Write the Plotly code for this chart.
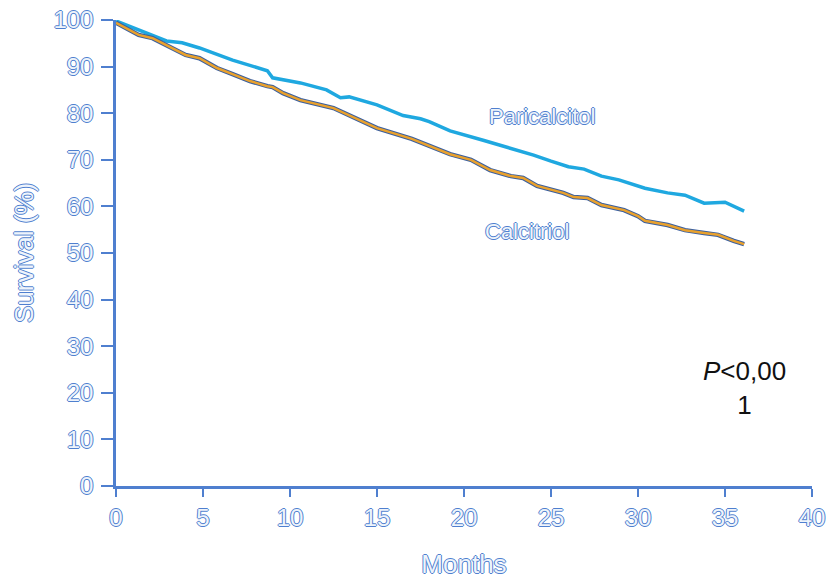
import plotly.graph_objects as go

# Paricalcitol survival (%) by month
pari_months = [0, 1.5, 2.9, 3.8, 4.8, 6.7, 8.7, 9.0, 10.6, 12.1, 12.9, 13.4, 15.0, 16.5, 17.5, 18.0,
               19.2, 21.1, 23.1, 24.0, 25.0, 26.0, 26.9, 27.9, 28.9, 30.4, 31.7, 32.7, 33.8, 35.0, 36.1]
pari_surv = [99.8, 97.6, 95.5, 95.1, 94.0, 91.4, 89.1, 87.6, 86.5, 85.0, 83.3, 83.5, 81.8, 79.5, 78.8, 78.2,
             76.2, 74.2, 72.1, 71.0, 69.7, 68.5, 68.0, 66.5, 65.7, 63.9, 62.9, 62.4, 60.7, 60.9, 59.0]

# Calcitriol survival (%) by month
calc_months = [0, 1.3, 2.1, 2.9, 3.6, 4.0, 4.8, 5.8, 6.7, 7.7, 8.7, 9.0, 9.6, 10.6, 12.5, 13.4, 15.0, 17.0,
               19.2, 20.4, 21.5, 22.7, 23.4, 24.2, 25.7, 26.3, 27.1, 27.9, 29.2, 30.0, 30.4, 31.7, 32.7,
               33.8, 34.6, 35.5, 36.1]
calc_surv = [99.4, 96.8, 96.1, 94.6, 93.3, 92.5, 91.8, 89.7, 88.4, 86.9, 85.8, 85.6, 84.3, 82.8, 81.1, 79.6,
             76.8, 74.5, 71.2, 70.0, 67.8, 66.5, 66.1, 64.4, 62.9, 62.0, 61.8, 60.3, 59.2, 57.9, 56.9,
             56.0, 54.9, 54.3, 53.9, 52.6, 51.9]

x_ticks = [0, 5, 10, 15, 20, 25, 30, 35, 40]
y_ticks = [0, 10, 20, 30, 40, 50, 60, 70, 80, 90, 100]

OUT = "#4f7fcf"
FILL = "#eef4fb"
shadow = f"1px 0 0 {OUT}, -1px 0 0 {OUT}, 0 1px 0 {OUT}, 0 -1px 0 {OUT}"
hollow = dict(family="Liberation Sans, Arial, sans-serif", color=FILL, shadow=shadow)

fig = go.Figure()
fig.add_trace(go.Scatter(x=pari_months, y=pari_surv, mode="lines",
                         line=dict(color="#1fa8e0", width=3.5), showlegend=False))
fig.add_trace(go.Scatter(x=calc_months, y=calc_surv, mode="lines",
                         line=dict(color="#3a5f9f", width=4.5), showlegend=False))
fig.add_trace(go.Scatter(x=calc_months, y=calc_surv, mode="lines",
                         line=dict(color="#e9a12d", width=2.5), showlegend=False))

fig.add_annotation(x=24.5, y=79.4, text="Paricalcitol", showarrow=False,
                   font=dict(size=22, **hollow))
fig.add_annotation(x=23.6, y=54.6, text="Calcitriol", showarrow=False,
                   font=dict(size=22, **hollow))
fig.add_annotation(x=36.1, y=21.0, text="<i>P</i><0,00<br>1", showarrow=False,
                   font=dict(size=26, color="#111111", family="Liberation Sans, Arial, sans-serif"),
                   align="center")

fig.update_xaxes(range=[0, 40], tickvals=x_ticks, ticktext=[str(v) for v in x_ticks],
                 showgrid=False, zeroline=False, showline=True, linecolor=OUT, linewidth=2.5,
                 ticks="outside", ticklen=8, tickwidth=2, tickcolor=OUT, automargin=False,
                 ticklabeloverflow="allow",
                 tickfont=dict(size=24, **hollow),
                 title=dict(text="Months", font=dict(size=26, **hollow), standoff=26))
fig.update_yaxes(range=[0, 100], tickvals=y_ticks, ticktext=[str(v) for v in y_ticks],
                 showgrid=False, zeroline=False, showline=True, linecolor=OUT, linewidth=2.5,
                 ticks="outside", ticklen=12, tickwidth=2, tickcolor=OUT, automargin=False,
                 ticklabeloverflow="allow", ticklabelstandoff=3,
                 tickfont=dict(size=24, **hollow),
                 title=dict(text="Survival (%)", font=dict(size=26, **hollow), standoff=13))

fig.update_layout(width=826, height=580, plot_bgcolor="white", paper_bgcolor="white",
                  margin=dict(l=116, r=14, t=20, b=94))

fig.write_html("out.html", config={"displayModeBar": False},
               post_script="document.body.style.margin='0';document.body.style.overflow='hidden';")
